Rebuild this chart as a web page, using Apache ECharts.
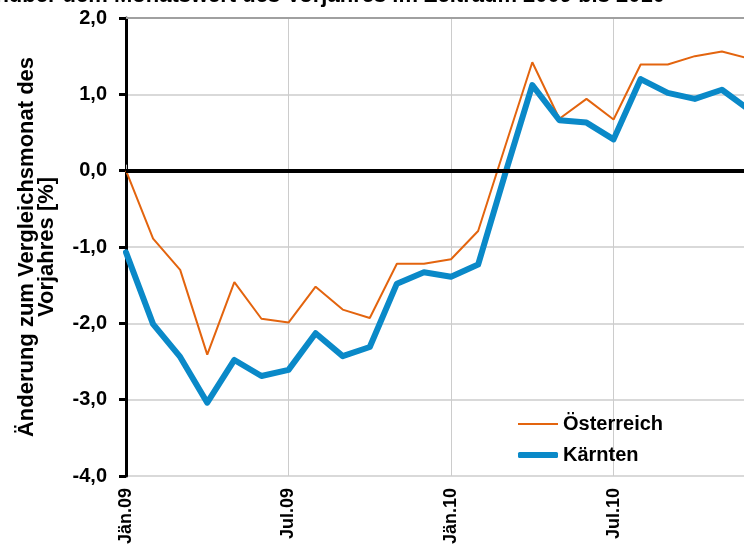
<!DOCTYPE html>
<html>
<head>
<meta charset="utf-8">
<script src="https://cdn.jsdelivr.net/npm/echarts@6/dist/echarts.min.js"></script>
<style>
  html, body { margin: 0; padding: 0; background: #fff; }
  #main { width: 744px; height: 547px; }
</style>
</head>
<body>
<div id="main"></div>
<script>
var months = ['Jän.09','Feb.09','Mär.09','Apr.09','Mai.09','Jun.09','Jul.09','Aug.09','Sep.09','Okt.09','Nov.09','Dez.09',
              'Jän.10','Feb.10','Mär.10','Apr.10','Mai.10','Jun.10','Jul.10','Aug.10','Sep.10','Okt.10','Nov.10','Dez.10'];
var oesterreich = [0.0, -0.89, -1.30, -2.41, -1.46, -1.94, -1.99, -1.52, -1.82, -1.93, -1.22, -1.22,
                   -1.16, -0.79, 0.32, 1.42, 0.68, 0.94, 0.67, 1.39, 1.39, 1.50, 1.56, 1.47];
var kaernten = [-1.07, -2.01, -2.44, -3.04, -2.48, -2.69, -2.61, -2.13, -2.43, -2.31, -1.48, -1.33,
                -1.39, -1.23, -0.04, 1.12, 0.66, 0.63, 0.41, 1.20, 1.02, 0.94, 1.06, 0.80];
var yTicks = [-4, -3, -2, -1, 0, 1, 2];

var fontFam = '"Liberation Sans", Arial, sans-serif';
var orange = '#e3640e';
var blue = '#0a89c8';
var chart = echarts.init(document.getElementById('main'));

function fmt(v) {
  return v.toFixed(1).replace('.', ',');
}

var legendText = { fontFamily: fontFam, fontWeight: 'bold', fontSize: 20, color: '#000' };

var option = {
  animation: false,
  backgroundColor: '#fff',
  grid: {
    left: 126,
    top: 18,
    width: 623,
    height: 458,
    outerBoundsMode: 'none',
    containLabel: false
  },
  legend: [
    {
      left: 518,
      top: 414,
      padding: 0,
      icon: 'rect',
      itemWidth: 40,
      itemHeight: 2,
      textStyle: legendText,
      data: ['Österreich']
    },
    {
      left: 518,
      top: 445,
      padding: 0,
      icon: 'roundRect',
      itemWidth: 40,
      itemHeight: 6,
      textStyle: legendText,
      data: ['Kärnten']
    }
  ],
  graphic: [
    {
      type: 'text',
      x: 665,
      y: 7,
      style: {
        text: 'Arbeitslose: Änderung gegenüber dem Monatswert des Vorjahres im Zeitraum 2009 bis 2010',
        font: 'bold 22px ' + fontFam,
        fill: '#000',
        textAlign: 'right',
        textVerticalAlign: 'bottom'
      }
    },
    {
      type: 'text',
      x: 37,
      y: 247,
      rotation: Math.PI / 2,
      style: {
        text: 'Änderung zum Vergleichsmonat des\nVorjahres [%]',
        font: 'bold 22px ' + fontFam,
        lineHeight: 20,
        fill: '#000',
        textAlign: 'center',
        textVerticalAlign: 'middle'
      }
    }
  ],
  xAxis: {
    type: 'category',
    data: months,
    boundaryGap: false,
    axisLine: { lineStyle: { color: '#8c8c8c', width: 2 } },
    axisTick: { show: true, inside: true, length: 6, interval: 5, lineStyle: { color: '#c8c8c8' } },
    axisLabel: {
      interval: 5,
      rotate: 90,
      margin: 12,
      fontFamily: fontFam,
      fontWeight: 'bold',
      fontSize: 18,
      color: '#000'
    },
    splitLine: { show: true, interval: 5, lineStyle: { color: '#cccccc', width: 1 } }
  },
  yAxis: {
    type: 'value',
    min: yTicks[0],
    max: yTicks[yTicks.length - 1],
    interval: 1,
    axisLine: { show: true, lineStyle: { color: '#000', width: 3 } },
    axisTick: { show: true, length: 7, lineStyle: { color: '#000', width: 3 } },
    axisLabel: {
      margin: 19,
      fontFamily: fontFam,
      fontWeight: 'bold',
      fontSize: 20,
      color: '#000',
      formatter: function (v) { return fmt(v); }
    },
    splitLine: { lineStyle: { color: '#d9d9d9', width: 2 } }
  },
  series: [
    {
      name: 'Österreich',
      type: 'line',
      data: oesterreich,
      symbol: 'none',
      lineStyle: { color: orange, width: 2 },
      itemStyle: { color: orange },
      z: 3,
      markLine: {
        silent: true,
        symbol: 'none',
        label: { show: false },
        data: [
          { yAxis: 0, lineStyle: { color: '#000', width: 4, type: 'solid' } },
          { yAxis: 2, lineStyle: { color: '#a0a0a0', width: 2, type: 'solid' } }
        ]
      }
    },
    {
      name: 'Kärnten',
      type: 'line',
      data: kaernten,
      symbol: 'none',
      lineStyle: { color: blue, width: 6, cap: 'round', join: 'round' },
      itemStyle: { color: blue },
      z: 4
    }
  ]
};

chart.setOption(option);
</script>
</body>
</html>
